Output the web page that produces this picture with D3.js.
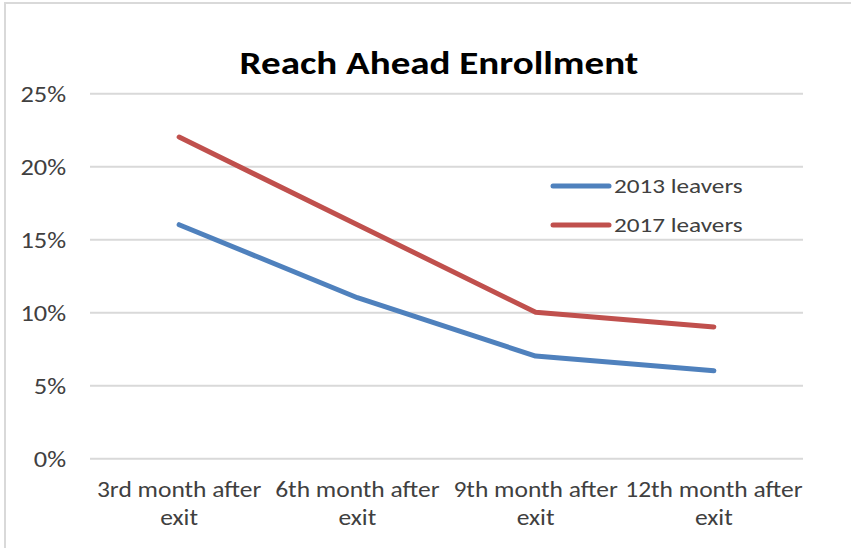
<!DOCTYPE html>
<html>
<head>
<meta charset="utf-8">
<script src="https://cdn.jsdelivr.net/npm/d3@7"></script>
<style>
  body { margin: 0; background: #fff; }
</style>
</head>
<body>
<div id="chart"></div>
<script>
var svgWidth = 851;
var svgHeight = 548;
var margin = { top: 93.3, right: 48, bottom: 89.7, left: 90 };
var width = svgWidth - margin.left - margin.right;
var height = svgHeight - margin.top - margin.bottom;

// Data
var categories = [["3rd month after", "exit"], ["6th month after", "exit"], ["9th month after", "exit"], ["12th month after", "exit"]];
var seriesNames = ["2013 leavers", "2017 leavers"];
var values2013 = [0.16, 0.11, 0.07, 0.06];
var values2017 = [0.22, 0.16, 0.10, 0.09];
var yTicks = [0, 0.05, 0.10, 0.15, 0.20, 0.25];
var colors = ["#4F81BD", "#C0504D"];

var labelFont = "Carlito, Calibri, 'Liberation Sans Narrow', 'Open Sans', sans-serif";
// the reference text is a bit wider than Calibri, so stretch it sideways
var stretch = "scale(1.2,1)";

var svg = d3.select("#chart")
    .append("svg")
    .attr("width", svgWidth)
    .attr("height", svgHeight);

// outer frame
svg.append("rect")
    .attr("x", 5)
    .attr("y", 3)
    .attr("width", svgWidth + 10)
    .attr("height", svgHeight + 10)
    .attr("fill", "#fff")
    .attr("stroke", "#d9d9d9")
    .attr("stroke-width", 2);

var chartGroup = svg.append("g")
    .attr("transform", `translate(${margin.left}, ${margin.top})`);

var xScale = d3.scaleBand()
    .domain(d3.range(categories.length))
    .range([0, width]);

var yScale = d3.scaleLinear()
    .domain([0, 0.25])
    .range([height, 0]);

// gridlines + y labels
var yAxis = d3.axisLeft(yScale)
    .tickValues(yTicks)
    .tickSize(-width)
    .tickPadding(20)
    .tickFormat(d3.format(".0%"));

var yG = chartGroup.append("g").call(yAxis);
yG.select(".domain").remove();
yG.selectAll(".tick line").attr("stroke", "#d9d9d9").attr("stroke-width", 2);
yG.selectAll(".tick text")
    .attr("fill", "#404040")
    .attr("font-family", labelFont)
    .attr("font-size", 22)
    .attr("dy", "0.35em")
    .attr("transform", stretch);

// x labels
var xG = chartGroup.append("g")
    .attr("transform", `translate(0, ${height})`)
    .call(d3.axisBottom(xScale).tickSize(0).tickFormat(""));
xG.select(".domain").remove();
xG.selectAll(".tick").each(function(i) {
    var t = d3.select(this).append("text")
        .attr("fill", "#404040")
        .attr("font-family", labelFont)
        .attr("font-size", 22)
        .attr("text-anchor", "middle")
        .attr("transform", "scale(1.16,1)");
    categories[i].forEach(function(s, k) {
        t.append("tspan").attr("x", 0).attr("y", 39 + k * 28).text(s);
    });
});

// lines
var line = d3.line()
    .x((d, i) => xScale(i) + xScale.bandwidth() / 2)
    .y(d => yScale(d));

[values2013, values2017].forEach(function(vals, s) {
    chartGroup.append("path")
        .datum(vals)
        .attr("fill", "none")
        .attr("stroke", colors[s])
        .attr("stroke-width", 5)
        .attr("stroke-linecap", "round")
        .attr("stroke-linejoin", "round")
        .attr("d", line);
});

// legend
var legend = svg.append("g").attr("transform", "translate(553, 186)");
seriesNames.forEach(function(name, i) {
    var g = legend.append("g").attr("transform", `translate(0, ${i * 39})`);
    g.append("line")
        .attr("x1", 0).attr("x2", 56)
        .attr("stroke", colors[i])
        .attr("stroke-width", 5)
        .attr("stroke-linecap", "round");
    g.append("text")
        .attr("transform", "translate(61,0) " + stretch)
        .attr("dy", "0.35em")
        .attr("fill", "#404040")
        .attr("font-family", labelFont)
        .attr("font-size", 21)
        .text(name);
});

// title
svg.append("text")
    .attr("transform", "translate(439,74) scale(1.22,1)")
    .attr("text-anchor", "middle")
    .attr("font-family", labelFont)
    .attr("font-weight", "bold")
    .attr("font-size", 32)
    .attr("fill", "#000")
    .text("Reach Ahead Enrollment");
</script>
</body>
</html>
